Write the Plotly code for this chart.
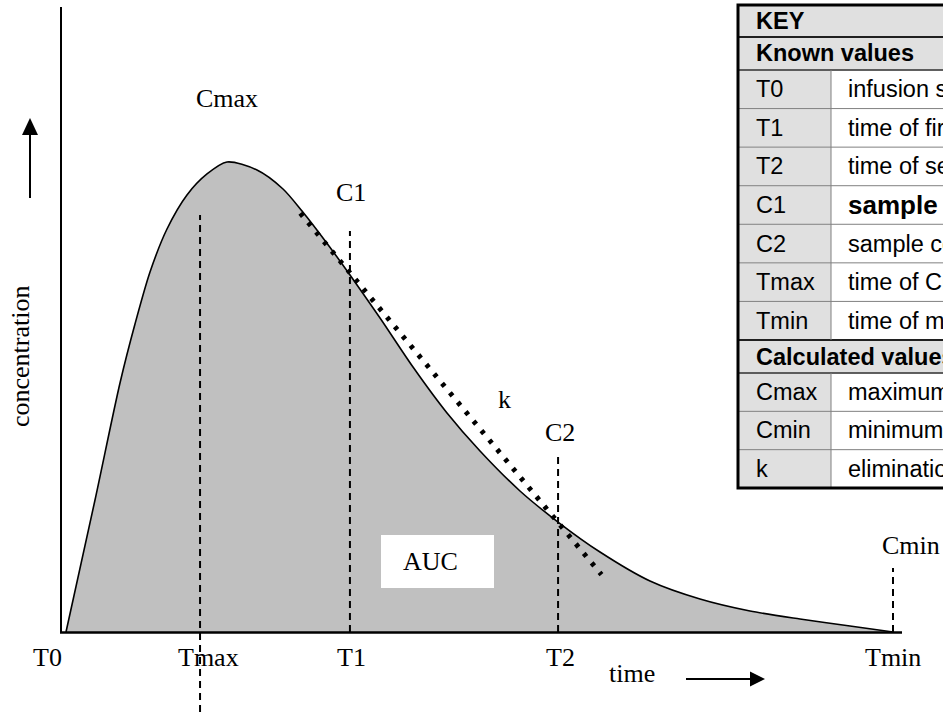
import plotly.graph_objects as go

# ---------------- data ----------------
# concentration-time profile (time in h, concentration in mg/L)
curve_time = [0.000, 0.842, 1.567, 2.002, 2.438, 2.931, 3.511, 4.092, 4.672, 5.543, 6.298,
              6.849, 7.545, 8.242, 9.113, 10.070, 11.057, 12.015, 13.175, 14.278, 15.497,
              16.948, 18.399, 19.850, 21.301, 22.752, 24.000]
curve_conc = [0.000, 2.809, 5.298, 6.553, 7.660, 8.574, 9.298, 9.745, 10.000, 9.830, 9.426,
              8.957, 8.298, 7.596, 6.681, 5.638, 4.660, 3.851, 3.000, 2.340, 1.702,
              1.085, 0.702, 0.447, 0.277, 0.128, 0.000]

# dashed guide lines (Tmax, T1, T2, Tmin)
guide_names = ["Tmax", "T1", "T2", "Tmin"]
guide_time = [3.89, 8.24, 14.28, 24.00]
guide_top = [8.87, 8.53, 3.77, 1.36]
guide_bottom = [-1.70, 0.00, 0.00, 0.00]

# elimination slope k (dotted line)
k_time = [6.80, 15.54]
k_conc = [8.91, 1.22]

# key table
key_title = "KEY"
known_header = "Known values"
known_rows = [("T0", "infusion start"),
              ("T1", "time of first sample"),
              ("T2", "time of second sample"),
              ("C1", "sample concentration at T1"),
              ("C2", "sample concentration at T2"),
              ("Tmax", "time of Cmax"),
              ("Tmin", "time of minimum concentration")]
calc_header = "Calculated values"
calc_rows = [("Cmax", "maximum concentration"),
             ("Cmin", "minimum concentration"),
             ("k", "elimination rate constant")]

# ---------------- layout helpers ----------------
W, H = 943, 714
SX = 827 / 24.0      # px per hour
SY = 47.0            # px per mg/L
X0 = -66 / SX
X1 = (W - 66) / SX
Y0 = -(H - 632) / SY
Y1 = 632 / SY


def px(x):
    return x / W


def py(y):
    return 1 - y / H


SERIF = "Liberation Serif, Times New Roman, serif"
SANS = "Liberation Sans, Arial, sans-serif"
TFS = 23.5

fig = go.Figure()

# filled curve (AUC)
fig.add_trace(go.Scatter(x=curve_time, y=curve_conc, mode="lines",
                         line=dict(color="black", width=1.6, shape="spline", smoothing=0.8),
                         fill="tozeroy", fillcolor="#c0c0c0", hoverinfo="skip"))

# dashed guide lines
for t, top, bot in zip(guide_time, guide_top, guide_bottom):
    fig.add_trace(go.Scatter(x=[t, t], y=[bot, top], mode="lines",
                             line=dict(color="black", width=2, dash="7px,5px"),
                             hoverinfo="skip"))

# dotted elimination line
fig.add_trace(go.Scatter(x=k_time, y=k_conc, mode="lines",
                         line=dict(color="black", width=5, dash="4px,8.3px"),
                         hoverinfo="skip"))

shapes = []
# axes
shapes.append(dict(type="line", xref="paper", yref="paper", x0=px(61), x1=px(61), y0=py(7), y1=py(633),
                   line=dict(color="black", width=2)))
shapes.append(dict(type="line", xref="paper", yref="paper", x0=px(60), x1=px(902), y0=py(632.5), y1=py(632.5),
                   line=dict(color="black", width=2.5)))
# vertical arrow
shapes.append(dict(type="line", xref="paper", yref="paper", x0=px(30), x1=px(30), y0=py(198), y1=py(132),
                   line=dict(color="black", width=2)))
shapes.append(dict(type="path", xref="paper", yref="paper",
                   path=f"M {px(30)} {py(118)} L {px(22)} {py(135)} L {px(38)} {py(135)} Z",
                   fillcolor="black", line=dict(color="black", width=0)))
# horizontal arrow
shapes.append(dict(type="line", xref="paper", yref="paper", x0=px(686), x1=px(752), y0=py(679), y1=py(679),
                   line=dict(color="black", width=2)))
shapes.append(dict(type="path", xref="paper", yref="paper",
                   path=f"M {px(765)} {py(679)} L {px(750)} {py(671.5)} L {px(750)} {py(686.5)} Z",
                   fillcolor="black", line=dict(color="black", width=0)))
# AUC white box
shapes.append(dict(type="rect", xref="paper", yref="paper", x0=px(381), x1=px(494), y0=py(535), y1=py(588),
                   fillcolor="white", line=dict(width=0), layer="above"))

# ---------------- key table ----------------
TX0, TDIV, TX1 = 738, 831, 1000
GRAY = "#e0e0e0"
rows = [("header", key_title, None, 5, 37),
        ("header", known_header, None, 37, 70)]
y = 70
for code, desc in known_rows:
    rows.append(("row", code, desc, y, y + 38.57))
    y += 38.57
rows.append(("header", calc_header, None, 340, 373))
y = 373
for code, desc in calc_rows:
    rows.append(("row", code, desc, y, y + 38.33))
    y += 38.33

annotations = []
for kind, a, b, ya, yb in rows:
    if kind == "header":
        shapes.append(dict(type="rect", xref="paper", yref="paper", x0=px(TX0), x1=px(TX1), y0=py(ya), y1=py(yb),
                           fillcolor=GRAY, line=dict(width=0), layer="above"))
        annotations.append(dict(xref="paper", yref="paper", x=px(754), y=py((ya + yb) / 2), text=f"<b>{a}</b>",
                                showarrow=False, xanchor="left", yanchor="middle",
                                font=dict(family=SANS, size=TFS, color="black")))
    else:
        shapes.append(dict(type="rect", xref="paper", yref="paper", x0=px(TX0), x1=px(TDIV), y0=py(ya), y1=py(yb),
                           fillcolor=GRAY, line=dict(width=0), layer="above"))
        shapes.append(dict(type="rect", xref="paper", yref="paper", x0=px(TDIV), x1=px(TX1), y0=py(ya), y1=py(yb),
                           fillcolor="white", line=dict(width=0), layer="above"))
        annotations.append(dict(xref="paper", yref="paper", x=px(754), y=py((ya + yb) / 2), text=a,
                                showarrow=False, xanchor="left", yanchor="middle",
                                font=dict(family=SANS, size=TFS, color="black")))
        if a == "C1":
            txt, fs = f"<b>{b}</b>", 26
        else:
            txt, fs = b, TFS
        annotations.append(dict(xref="paper", yref="paper", x=px(846), y=py((ya + yb) / 2), text=txt,
                                showarrow=False, xanchor="left", yanchor="middle",
                                font=dict(family=SANS, size=fs, color="black")))

# table lines
for kind, a, b, ya, yb in rows[1:]:
    if a in (known_header, calc_header):
        col, wd = "#202020", 2
    else:
        col, wd = "#808080", 1
    shapes.append(dict(type="line", xref="paper", yref="paper", x0=px(TX0), x1=px(TX1), y0=py(ya), y1=py(ya),
                       line=dict(color=col, width=wd), layer="above"))
shapes.append(dict(type="line", xref="paper", yref="paper", x0=px(TX0), x1=px(TX1), y0=py(70), y1=py(70),
                   line=dict(color="#404040", width=1.5), layer="above"))
shapes.append(dict(type="line", xref="paper", yref="paper", x0=px(TX0), x1=px(TX1), y0=py(373), y1=py(373),
                   line=dict(color="#404040", width=1.5), layer="above"))
shapes.append(dict(type="line", xref="paper", yref="paper", x0=px(TDIV), x1=px(TDIV), y0=py(70), y1=py(340),
                   line=dict(color="#808080", width=1), layer="above"))
shapes.append(dict(type="line", xref="paper", yref="paper", x0=px(TDIV), x1=px(TDIV), y0=py(373), y1=py(488),
                   line=dict(color="#808080", width=1), layer="above"))
shapes.append(dict(type="rect", xref="paper", yref="paper", x0=px(TX0), x1=px(TX1 + 20), y0=py(5), y1=py(488),
                   fillcolor="rgba(0,0,0,0)", line=dict(color="black", width=3), layer="above"))


# ---------------- chart labels ----------------
def lab(text, x, y, angle=0):
    annotations.append(dict(xref="paper", yref="paper", x=px(x), y=py(y), text=text, showarrow=False,
                            xanchor="center", yanchor="middle", textangle=angle,
                            font=dict(family=SERIF, size=26, color="black")))


lab("T0", 47, 657)
lab("Tmax", 208, 657)
lab("T1", 351, 657)
lab("T2", 560, 657)
lab("Tmin", 893, 657)
lab("Cmax", 227, 99)
lab("C1", 351, 193)
lab("C2", 560, 433)
lab("k", 504, 399)
lab("Cmin", 911, 545)
lab("AUC", 430, 561)
lab("time", 632, 673)
lab("concentration", 20, 356, -90)

fig.update_layout(
    width=W, height=H,
    margin=dict(l=0, r=0, t=0, b=0),
    paper_bgcolor="white", plot_bgcolor="white",
    showlegend=False, hovermode=False,
    xaxis=dict(visible=False, range=[X0, X1], fixedrange=True),
    yaxis=dict(visible=False, range=[Y0, Y1], fixedrange=True),
    shapes=shapes, annotations=annotations,
)

fig.write_html("out.html", config={"displayModeBar": False},
               post_script="document.body.style.margin='0';document.body.style.overflow='hidden';")
